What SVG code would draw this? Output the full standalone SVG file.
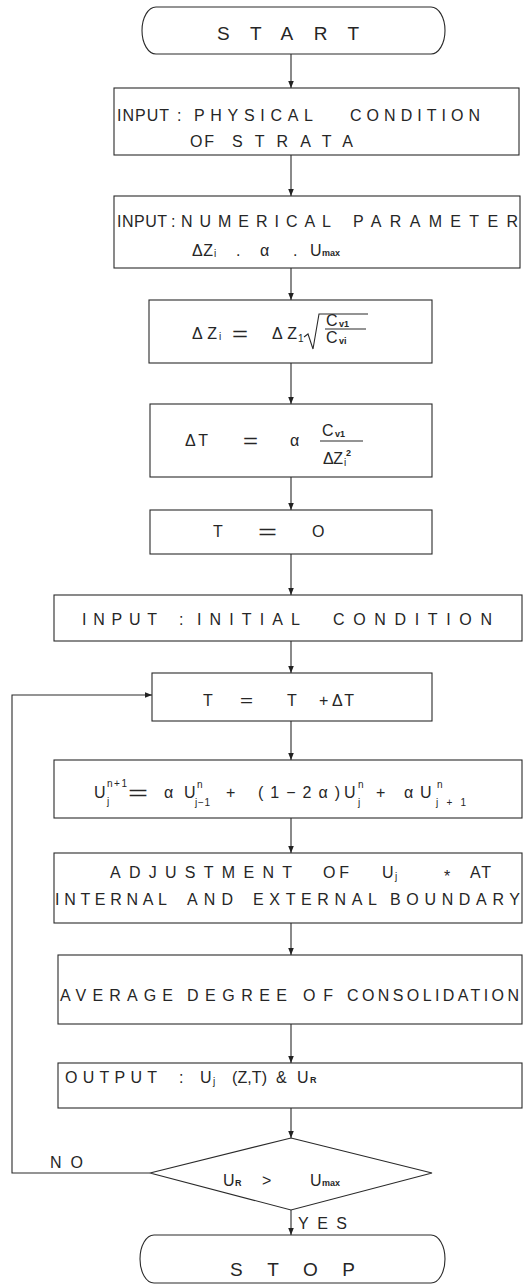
<svg xmlns="http://www.w3.org/2000/svg" width="524" height="1284" viewBox="0 0 524 1284">
<style>
.box{fill:#fff;stroke:#2a2a2a;stroke-width:1.1}
.t{font-family:"Liberation Sans",Arial,sans-serif;font-size:16px;fill:#262626}
.b{font-size:19px}
.eq{font-size:21px}
.s{font-size:10px}
.sm{font-size:9px;font-weight:bold}
.c{stroke:#2a2a2a;stroke-width:1.1;fill:none}
</style>
<defs>
<marker id="ah" viewBox="0 0 10 10" refX="10" refY="5" markerWidth="7" markerHeight="7" orient="auto" markerUnits="userSpaceOnUse"><path d="M0,1 L10,5 L0,9 Z" fill="#222"/></marker>
</defs>
<rect width="524" height="1284" fill="#fff"/>

<g id="connectors">
<line class="c" x1="291" y1="54" x2="291" y2="88" marker-end="url(#ah)"/>
<line class="c" x1="291" y1="155" x2="291" y2="196" marker-end="url(#ah)"/>
<line class="c" x1="291" y1="268" x2="291" y2="300" marker-end="url(#ah)"/>
<line class="c" x1="291" y1="363" x2="291" y2="404" marker-end="url(#ah)"/>
<line class="c" x1="291" y1="477" x2="291" y2="510" marker-end="url(#ah)"/>
<line class="c" x1="291" y1="554" x2="291" y2="595" marker-end="url(#ah)"/>
<line class="c" x1="291" y1="641" x2="291" y2="673" marker-end="url(#ah)"/>
<line class="c" x1="291" y1="721" x2="291" y2="760" marker-end="url(#ah)"/>
<line class="c" x1="291" y1="818" x2="291" y2="853" marker-end="url(#ah)"/>
<line class="c" x1="291" y1="923" x2="291" y2="955" marker-end="url(#ah)"/>
<line class="c" x1="291" y1="1024" x2="291" y2="1063" marker-end="url(#ah)"/>
<line class="c" x1="291" y1="1108" x2="291" y2="1138" marker-end="url(#ah)"/>
<line class="c" x1="291" y1="1210" x2="291" y2="1235" marker-end="url(#ah)"/>
<polyline class="c" points="150,1173 12,1173 12,695 152,695" marker-end="url(#ah)"/>
<text class="t" x="50" y="1168" textLength="33" lengthAdjust="spacing">NO</text>
<text class="t" x="298" y="1229" textLength="49" lengthAdjust="spacing">YES</text>
</g>

<g id="start">
<path class="box" d="M156,7 H431 A14,23.5 0 0 1 431,54 H156 A14,23.5 0 0 1 156,7 Z"/>
<text class="t b" x="217" y="40" textLength="142" lengthAdjust="spacing">START</text>
</g>

<g id="input-physical">
<rect class="box" x="114" y="88" width="405" height="67"/>
<text class="t" x="117" y="121" textLength="52" lengthAdjust="spacing">INPUT</text>
<text class="t" x="177" y="121">:</text>
<text class="t" x="194" y="121" textLength="119" lengthAdjust="spacing">PHYSICAL</text>
<text class="t" x="350" y="121" textLength="130" lengthAdjust="spacing">CONDITION</text>
<text class="t" x="190" y="147" textLength="24" lengthAdjust="spacing">OF</text>
<text class="t" x="232" y="147" textLength="121" lengthAdjust="spacing">STRATA</text>
</g>

<g id="input-numerical">
<rect class="box" x="114" y="196" width="406" height="72"/>
<text class="t" x="117" y="227" textLength="50" lengthAdjust="spacing">INPUT</text>
<text class="t" x="171" y="227">:</text>
<text class="t" x="181" y="227" textLength="150" lengthAdjust="spacing">NUMERICAL</text>
<text class="t" x="353" y="227" textLength="165" lengthAdjust="spacing">PARAMETER</text>
<text class="t" x="192" y="256" font-size="15" textLength="21" lengthAdjust="spacing">ΔZ</text>
<text class="t s" x="214" y="257">i</text>
<text class="t" x="236" y="256">.</text>
<text class="t" x="260" y="256">α</text>
<text class="t" x="293" y="256">.</text>
<text class="t" x="310" y="256" font-size="15">U</text>
<text class="t sm" x="322" y="256">max</text>
</g>

<g id="dz">
<rect class="box" x="149" y="300" width="283" height="63"/>
<text class="t" x="192" y="339" font-size="17" textLength="25" lengthAdjust="spacing">ΔZ</text>
<text class="t s" x="219" y="340">i</text>
<text class="t eq" x="232" y="341" textLength="16" lengthAdjust="spacingAndGlyphs">=</text>
<text class="t" x="272" y="339" font-size="17" textLength="25" lengthAdjust="spacing">ΔZ</text>
<text class="t s" x="298" y="342">1</text>
<path class="c" d="M304,337 L308,334 L313,349 L319,314 H368"/>
<text class="t" x="326" y="326" font-size="12">C</text>
<text class="t sm" x="339" y="327" font-size="8">v1</text>
<line class="c" x1="325" y1="329" x2="366" y2="329"/>
<text class="t" x="326" y="343" font-size="12">C</text>
<text class="t sm" x="339" y="344" font-size="8">vi</text>
</g>

<g id="dt">
<rect class="box" x="150" y="404" width="282" height="73"/>
<text class="t" x="185" y="446" font-size="17" textLength="23" lengthAdjust="spacing">ΔT</text>
<text class="t eq" x="243" y="448" textLength="15" lengthAdjust="spacingAndGlyphs">=</text>
<text class="t" x="290" y="446" font-size="18">α</text>
<text class="t" x="322" y="436" font-size="17">C</text>
<text class="t sm" x="335" y="437">v1</text>
<line class="c" x1="320" y1="441" x2="363" y2="441"/>
<text class="t" x="323" y="464" font-size="15" textLength="20" lengthAdjust="spacing">ΔZ</text>
<text class="t s" x="344" y="466" font-size="9">i</text>
<text class="t sm" x="346" y="456" font-size="8">2</text>
</g>

<g id="t0">
<rect class="box" x="150" y="510" width="282" height="44"/>
<text class="t" x="213" y="537">T</text>
<text class="t eq" x="258" y="539" textLength="19" lengthAdjust="spacingAndGlyphs">=</text>
<text class="t" x="312" y="537">O</text>
</g>

<g id="input-initial">
<rect class="box" x="54" y="595" width="468" height="46"/>
<text class="t" x="82" y="625" textLength="75" lengthAdjust="spacing">INPUT</text>
<text class="t" x="179" y="625">:</text>
<text class="t" x="197" y="625" textLength="103" lengthAdjust="spacing">INITIAL</text>
<text class="t" x="333" y="625" textLength="159" lengthAdjust="spacing">CONDITION</text>
</g>

<g id="t-step">
<rect class="box" x="152" y="673" width="280" height="48"/>
<text class="t" x="203" y="706">T</text>
<text class="t" x="240" y="706" textLength="13" lengthAdjust="spacingAndGlyphs">=</text>
<text class="t" x="287" y="706">T</text>
<text class="t" x="319" y="706">+</text>
<text class="t" x="332" y="706" textLength="22" lengthAdjust="spacing">ΔT</text>
</g>

<g id="update">
<rect class="box" x="54" y="760" width="468" height="58"/>
<text class="t" x="94" y="798" font-size="18">U</text>
<text class="t s" x="107" y="787" textLength="20" lengthAdjust="spacing">n+1</text>
<text class="t s" x="107" y="805">j</text>
<text class="t eq" x="128" y="800" textLength="20" lengthAdjust="spacingAndGlyphs">=</text>
<text class="t" x="164" y="798" font-size="18">α</text>
<text class="t" x="184" y="798" font-size="18">U</text>
<text class="t s" x="197" y="788">n</text>
<text class="t s" x="195" y="806" textLength="15" lengthAdjust="spacing">j−1</text>
<text class="t" x="226" y="798" font-size="18">+</text>
<text class="t" x="258" y="798" font-size="18" textLength="82" lengthAdjust="spacing">(1−2α)</text>
<text class="t" x="344" y="798" font-size="18">U</text>
<text class="t s" x="358" y="788">n</text>
<text class="t s" x="358" y="806">j</text>
<text class="t" x="376" y="798" font-size="18">+</text>
<text class="t" x="404" y="798" font-size="18">α</text>
<text class="t" x="420" y="798" font-size="18">U</text>
<text class="t s" x="437" y="788">n</text>
<text class="t s" x="436" y="806" textLength="30" lengthAdjust="spacing">j+1</text>
</g>

<g id="adjust">
<rect class="box" x="54" y="853" width="468" height="70"/>
<text class="t" x="110" y="878" textLength="182" lengthAdjust="spacing">ADJUSTMENT</text>
<text class="t" x="323" y="878" textLength="26" lengthAdjust="spacing">OF</text>
<text class="t" x="382" y="878">U</text>
<text class="t s" x="395" y="880">j</text>
<text class="t" x="444" y="882" font-size="20">*</text>
<text class="t" x="470" y="878" textLength="21" lengthAdjust="spacing">AT</text>
<text class="t" x="55" y="905" textLength="112" lengthAdjust="spacing">INTERNAL</text>
<text class="t" x="187" y="905" textLength="46" lengthAdjust="spacing">AND</text>
<text class="t" x="253" y="905" textLength="124" lengthAdjust="spacing">EXTERNAL</text>
<text class="t" x="390" y="905" textLength="130" lengthAdjust="spacing">BOUNDARY</text>
</g>

<g id="average">
<rect class="box" x="58" y="955" width="464" height="69"/>
<text class="t" x="60" y="1001" textLength="113" lengthAdjust="spacing">AVERAGE</text>
<text class="t" x="187" y="1001" textLength="100" lengthAdjust="spacing">DEGREE</text>
<text class="t" x="303" y="1001" textLength="30" lengthAdjust="spacing">OF</text>
<text class="t" x="347" y="1001" textLength="172" lengthAdjust="spacing">CONSOLIDATION</text>
</g>

<g id="output">
<rect class="box" x="58" y="1063" width="464" height="45"/>
<text class="t" x="65" y="1083" textLength="92" lengthAdjust="spacing">OUTPUT</text>
<text class="t" x="179" y="1083">:</text>
<text class="t" x="200" y="1083">U</text>
<text class="t s" x="213" y="1085">j</text>
<text class="t" x="232" y="1083" textLength="35" lengthAdjust="spacing">(Z,T)</text>
<text class="t" x="276" y="1083">&amp;</text>
<text class="t" x="297" y="1083">U</text>
<text class="t sm" x="310" y="1083">R</text>
</g>

<g id="decision">
<polygon class="box" points="291,1138 432,1173 291,1210 150,1173"/>
<text class="t" x="223" y="1186" font-size="15">U</text>
<text class="t sm" x="235" y="1186">R</text>
<text class="t" x="262" y="1186" font-size="18">&gt;</text>
<text class="t" x="310" y="1186" font-size="15">U</text>
<text class="t sm" x="322" y="1186">max</text>
</g>

<g id="stop">
<path class="box" d="M154,1235 H431 A14,24 0 0 1 431,1283 H154 A14,24 0 0 1 154,1235 Z"/>
<text class="t b" x="230" y="1276" textLength="125" lengthAdjust="spacing">STOP</text>
</g>
</svg>
